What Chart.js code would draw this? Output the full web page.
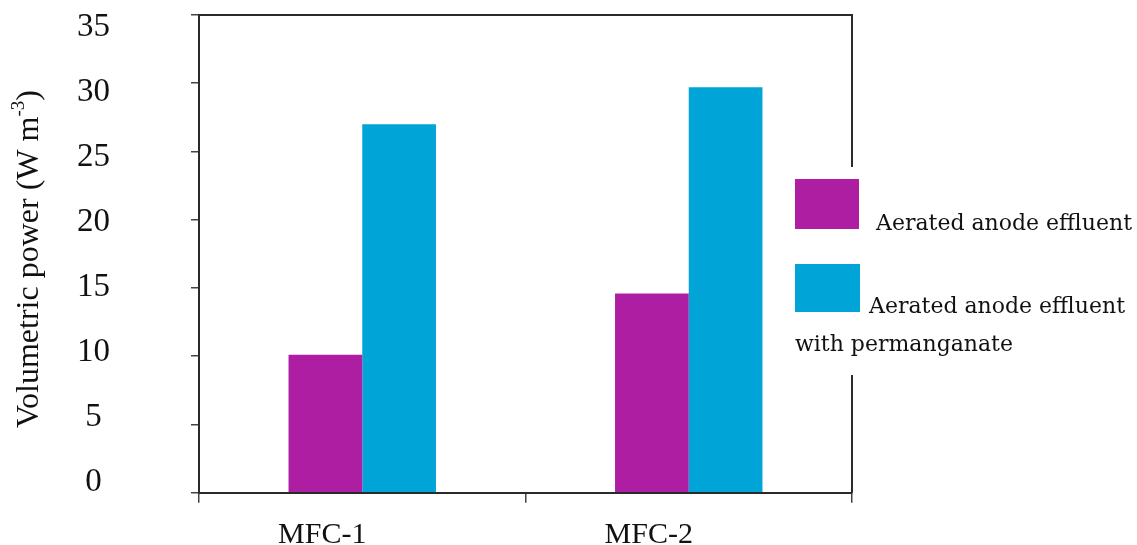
<!DOCTYPE html>
<html>
<head>
<meta charset="utf-8">
<script src="https://cdn.jsdelivr.net/npm/chart.js@4/dist/chart.umd.min.js"></script>
<style>
  body { margin: 0; background: #fff; }
  canvas { display: block; }
</style>
</head>
<body>
<canvas id="chart" width="1137" height="545"></canvas>
<script>
// data
const categories = ['MFC-1', 'MFC-2'];
const aerated = [10.1, 14.6];
const permanganate = [27.0, 29.7];
const seriesNames = ['Aerated anode effluent', 'Aerated anode effluent with permanganate'];
const yTicks = [0, 5, 10, 15, 20, 25, 30, 35];

const magenta = '#ad1ea2';
const cyan = '#00a4d6';
const axisColor = '#2a2a2a';

// the tick labels in the original are spaced a bit tighter than the tick marks,
// so they sit on their own axis with a slightly wider range
const labelMin = -0.82;
const labelMax = 35.98;

function noPadding(scale) {
  scale.paddingTop = 0;
  scale.paddingBottom = 0;
  scale.paddingLeft = 0;
  scale.paddingRight = 0;
}

const frameAndLegend = {
  id: 'frameAndLegend',
  afterDraw(chart) {
    const ctx = chart.ctx;
    const area = chart.chartArea;
    ctx.save();

    // top and right frame lines
    ctx.strokeStyle = axisColor;
    ctx.lineWidth = 2;
    ctx.beginPath();
    ctx.moveTo(area.left, area.top);
    ctx.lineTo(area.right, area.top);
    ctx.lineTo(area.right, area.bottom);
    ctx.stroke();

    // legend sits on a white box that cuts the right frame line
    const lx = area.right - 57;
    ctx.fillStyle = '#fff';
    ctx.fillRect(area.right - 10, area.top + 152, 300, 208);

    ctx.fillStyle = magenta;
    ctx.fillRect(lx, area.top + 164, 64, 50);
    ctx.fillStyle = cyan;
    ctx.fillRect(lx, area.top + 249, 65, 48);

    ctx.fillStyle = '#111';
    ctx.font = '22px "DejaVu Serif"';
    ctx.textAlign = 'left';
    ctx.textBaseline = 'alphabetic';
    ctx.fillText(seriesNames[0], lx + 81, area.top + 215);
    ctx.fillText('Aerated anode effluent', lx + 74, area.top + 298);
    ctx.fillText('with permanganate', lx, area.top + 336);

    // y axis title with superscript
    const cx = 28, cy = 259;
    ctx.translate(cx, cy);
    ctx.rotate(-Math.PI / 2);
    const main = 'Volumetric power (W m';
    const sup = '-3';
    const close = ')';
    const big = '32px "Liberation Serif"';
    const small = '19px "Liberation Serif"';
    ctx.font = big;
    const w1 = ctx.measureText(main).width;
    const w3 = ctx.measureText(close).width;
    ctx.font = small;
    const w2 = ctx.measureText(sup).width;
    let x = -(w1 + w2 + w3) / 2;
    ctx.font = big;
    ctx.fillText(main, x, 10);
    x += w1;
    ctx.font = small;
    ctx.fillText(sup, x, -4);
    x += w2;
    ctx.font = big;
    ctx.fillText(close, x, 10);
    ctx.restore();
  }
};

new Chart(document.getElementById('chart'), {
  type: 'bar',
  data: {
    labels: categories,
    datasets: [
      { label: seriesNames[0], data: aerated, backgroundColor: magenta, yAxisID: 'y' },
      { label: seriesNames[1], data: permanganate, backgroundColor: cyan, yAxisID: 'y' }
    ]
  },
  options: {
    responsive: false,
    animation: false,
    layout: { padding: { top: 15, right: 285, left: 0, bottom: 0 } },
    datasets: { bar: { categoryPercentage: 0.4515, barPercentage: 1.0 } },
    plugins: { legend: { display: false }, tooltip: { enabled: false } },
    scales: {
      x: {
        offset: true,
        grid: { offset: true, drawOnChartArea: false, drawTicks: true, tickLength: 10, color: '#444', lineWidth: 1.5 },
        border: { color: axisColor, width: 2 },
        ticks: { color: '#111', font: { family: 'Liberation Serif', size: 30 }, padding: 14, labelOffset: -40, maxRotation: 0 },
        afterFit(scale) { scale.height = 52.3; noPadding(scale); }
      },
      y: {
        position: 'left',
        weight: 0,
        min: 0,
        max: 35,
        ticks: { display: false, stepSize: 5 },
        grid: { drawOnChartArea: false, drawTicks: true, tickLength: 8, color: '#444', lineWidth: 1.5 },
        border: { color: axisColor, width: 2 },
        afterFit(scale) { scale.width = 8; noPadding(scale); }
      },
      yl: {
        position: 'left',
        weight: 1,
        min: labelMin,
        max: labelMax,
        grid: { display: false, drawTicks: false },
        border: { display: false },
        afterBuildTicks(scale) { scale.ticks = yTicks.map(v => ({ value: v })); },
        ticks: {
          color: '#111',
          font: { family: 'Liberation Serif', size: 33 },
          crossAlign: 'center',
          padding: 81,
          callback: v => v
        },
        afterFit(scale) { scale.width = 191; noPadding(scale); }
      }
    }
  },
  plugins: [frameAndLegend]
});
</script>
</body>
</html>
